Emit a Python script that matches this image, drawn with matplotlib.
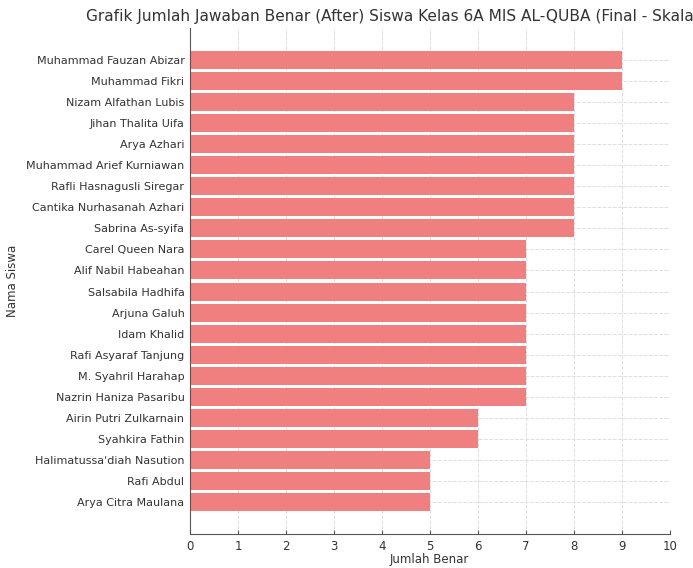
import matplotlib
matplotlib.use("Agg")
import matplotlib.pyplot as plt

names = [
    "Muhammad Fauzan Abizar", "Muhammad Fikri", "Nizam Alfathan Lubis",
    "Jihan Thalita Uifa", "Arya Azhari", "Muhammad Arief Kurniawan",
    "Rafli Hasnagusli Siregar", "Cantika Nurhasanah Azhari", "Sabrina As-syifa",
    "Carel Queen Nara", "Alif Nabil Habeahan", "Salsabila Hadhifa",
    "Arjuna Galuh", "Idam Khalid", "Rafi Asyaraf Tanjung", "M. Syahril Harahap",
    "Nazrin Haniza Pasaribu", "Airin Putri Zulkarnain", "Syahkira Fathin",
    "Halimatussa'diah Nasution", "Rafi Abdul", "Arya Citra Maulana",
]
scores = [9, 9, 8, 8, 8, 8, 8, 8, 8, 7, 7, 7, 7, 7, 7, 7, 7, 6, 6, 5, 5, 5]
xticks = list(range(0, 11))
title = "Grafik Jumlah Jawaban Benar (After) Siswa Kelas 6A MIS AL-QUBA (Final - Skala 10)"

W, H = 693, 568
fig = plt.figure(figsize=(W / 100, H / 100), dpi=100)
ax = fig.add_axes([190 / W, 1 - 534 / H, (670 - 190) / W, (534 - 28) / H])

txt = "#333333"
ax.barh(range(len(names)), scores, height=0.85, color="#F08080", zorder=2)
ax.set_yticks(range(len(names)))
ax.set_yticklabels(names, fontsize=8, color=txt)
ax.set_ylim(len(names) - 1 + 1.5, -1.5)
ax.set_xlim(0, 10)
ax.set_xticks(xticks)
ax.set_xticklabels([str(v) for v in xticks], fontsize=8.5, color=txt)
ax.grid(True, linestyle="--", color="#dddddd", linewidth=0.7, zorder=0)
ax.set_axisbelow(True)
for s in ["top", "right"]:
    ax.spines[s].set_visible(False)
for s in ["left", "bottom"]:
    ax.spines[s].set_color("#555555")
ax.tick_params(colors="#555555", length=3, direction="in", pad=4, labelcolor=txt)
ax.set_xlabel("Jumlah Benar", fontsize=8.5, color=txt)
ax.set_ylabel("Nama Siswa", fontsize=8.5, color=txt)
ax.xaxis.set_label_coords((429 - 190) / (670 - 190), -(553 - 534) / (534 - 28))
ax.yaxis.set_label_coords(-(190 - 19) / (670 - 190), 0.5)

fig.text(86 / W, 1 - 16 / H, title, fontsize=11.1, color=txt, ha="left", va="center")

fig.savefig("out.png", dpi=100)
